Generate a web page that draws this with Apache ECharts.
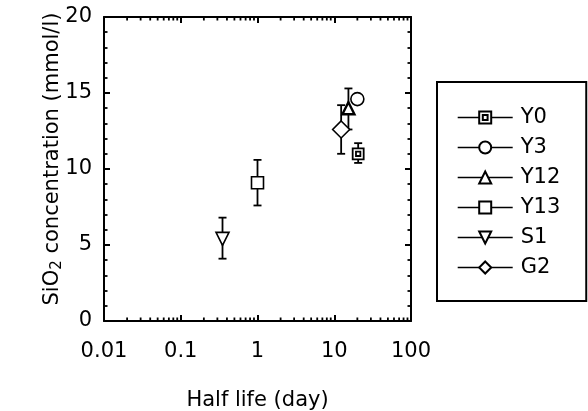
<!DOCTYPE html>
<html>
<head>
<meta charset="utf-8">
<script src="https://cdn.jsdelivr.net/npm/echarts@6/dist/echarts.min.js"></script>
<style>html,body{margin:0;padding:0;background:#fff;}#c{width:588px;height:411px;}</style>
</head>
<body>
<div id="c"></div>
<script>
// ---- data ----
const seriesNames = ['Y0', 'Y3', 'Y12', 'Y13', 'S1', 'G2'];
const halfLife   = [20.5, 20.0, 15.3, 1.0, 0.35, 12.3];
const sio2       = [11.0, 14.6, 14.0, 9.1, 5.4, 12.6];
const errLow     = [10.4, null, 12.6, 7.6, 4.1, 11.0];
const errHigh    = [11.7, null, 15.3, 10.6, 6.8, 14.2];
const xTickLabels = ['0.01', '0.1', '1', '10', '100'];
const decades = [0.01, 0.1, 1, 10];
const minorMultiples = [2, 3, 4, 5, 6, 7, 8, 9];

// ---- styles ----
const FONT = 'DejaVu Sans';
const FS = 21;
const symbols = {
  Y0:  {symbol: 'path://M0,0H10V10H0Z M3,3H7V7H3Z', size: 11, rotate: 0, bw: 1.8},
  Y3:  {symbol: 'circle', size: 13, rotate: 0, bw: 1.6},
  Y12: {symbol: 'triangle', size: 12, rotate: 0, bw: 2.4},
  Y13: {symbol: 'rect', size: 12, rotate: 0, bw: 1.6},
  S1:  {symbol: 'triangle', size: 13, rotate: 180, bw: 1.6},
  G2:  {symbol: 'diamond', size: 17, rotate: 0, bw: 1.6}
};

const minorTickVals = [];
decades.forEach(d => minorMultiples.forEach(m => minorTickVals.push([d * m])));

const errData = [];
seriesNames.forEach((n, i) => {
  if (errLow[i] != null) errData.push([halfLife[i], errLow[i], errHigh[i]]);
});

const pointSeries = seriesNames.map((n, i) => ({
  name: n,
  type: 'line',
  xAxisIndex: 0, yAxisIndex: 0,
  data: [[halfLife[i], sio2[i]]],
  symbol: symbols[n].symbol,
  symbolSize: symbols[n].size,
  symbolRotate: symbols[n].rotate,
  symbolKeepAspect: true,
  showSymbol: true,
  itemStyle: {color: '#fff', borderColor: '#000', borderWidth: symbols[n].bw},
  lineStyle: {color: '#000', width: 1.4},
  z: 5,
  animation: false
}));

const axisCommon = {
  axisLine: {show: true, onZero: false, lineStyle: {color: '#000', width: 2}},
  axisTick: {show: true, inside: true, length: 6, lineStyle: {color: '#000', width: 2}},
  splitLine: {show: false}
};

const option = {
  animation: false,
  backgroundColor: '#fff',
  grid: {left: 104, right: 177, top: 17, bottom: 90, containLabel: false, outerBoundsMode: 'none'},
  xAxis: [
    Object.assign({
      type: 'log', logBase: 10, min: 0.01, max: 100, position: 'bottom',
      name: 'Half life (day)', nameLocation: 'middle', nameGap: 69, nameMoveOverlap: false,
      nameTextStyle: {fontFamily: FONT, fontSize: FS, color: '#000'},
      axisLabel: {fontFamily: FONT, fontSize: FS, color: '#000', margin: 20,
        formatter: v => { const i = Math.round(Math.log10(v) + 2); return xTickLabels[i] || ''; }}
    }, axisCommon),
    Object.assign({
      type: 'log', logBase: 10, min: 0.01, max: 100, position: 'top',
      axisLabel: {show: false}
    }, axisCommon)
  ],
  yAxis: [
    Object.assign({
      type: 'value', min: 0, max: 20, interval: 5, position: 'left',
      name: 'SiO{sub|2} concentration (mmol/l)', nameLocation: 'middle', nameGap: 39, nameMoveOverlap: false,
      nameTextStyle: {fontFamily: FONT, fontSize: FS, color: '#000', padding: [0, 0, 0, 20],
        rich: {sub: {fontFamily: FONT, fontSize: 15, color: '#000', padding: [9, 0, 0, 0]}}},
      axisLabel: {fontFamily: FONT, fontSize: FS, color: '#000', margin: 12},
      minorTick: {show: true, splitNumber: 5, length: 3.5, lineStyle: {color: '#000', width: 1.8}}
    }, axisCommon),
    Object.assign({
      type: 'value', min: 0, max: 20, interval: 5, position: 'right',
      axisLabel: {show: false},
      minorTick: {show: true, splitNumber: 5, length: 3.5, lineStyle: {color: '#000', width: 1.8}}
    }, axisCommon)
  ],
  legend: {
    orient: 'vertical', left: 437, top: 82,
    padding: [25, 26, 23, 20],
    itemWidth: 55, itemHeight: 15, itemGap: 9,
    borderColor: '#000', borderWidth: 2, backgroundColor: '#fff',
    selectedMode: false,
    data: seriesNames,
    textStyle: {fontFamily: FONT, fontSize: FS, color: '#000', lineHeight: 20, padding: [0, 0, 0, 3]},
    lineStyle: {color: '#000', width: 1.4, opacity: 1}
  },
  series: [
    {
      type: 'custom', name: 'errorbars', xAxisIndex: 0, yAxisIndex: 0,
      data: errData, encode: {x: 0, y: [1, 2]}, z: 2, silent: true,
      renderItem: function (params, api) {
        const lo = api.coord([api.value(0), api.value(1)]);
        const hi = api.coord([api.value(0), api.value(2)]);
        const w = 4;
        const st = {stroke: '#000', lineWidth: 1.8};
        return {type: 'group', children: [
          {type: 'line', shape: {x1: lo[0], y1: lo[1], x2: hi[0], y2: hi[1]}, style: st},
          {type: 'line', shape: {x1: lo[0] - w, y1: lo[1], x2: lo[0] + w, y2: lo[1]}, style: st},
          {type: 'line', shape: {x1: hi[0] - w, y1: hi[1], x2: hi[0] + w, y2: hi[1]}, style: st}
        ]};
      }
    },
    {
      type: 'custom', name: 'minorticks', xAxisIndex: 0, yAxisIndex: 0,
      data: minorTickVals, encode: {x: 0}, z: 3, silent: true, clip: false,
      renderItem: function (params, api) {
        const v = api.value(0);
        const b = api.coord([v, 0]);
        const t = api.coord([v, 20]);
        const st = {stroke: '#000', lineWidth: 1.8};
        return {type: 'group', children: [
          {type: 'line', shape: {x1: b[0], y1: b[1], x2: b[0], y2: b[1] - 3.5}, style: st},
          {type: 'line', shape: {x1: t[0], y1: t[1], x2: t[0], y2: t[1] + 3.5}, style: st}
        ]};
      }
    }
  ].concat(pointSeries)
};

const chart = echarts.init(document.getElementById('c'), null, {renderer: 'canvas'});
chart.setOption(option);
</script>
</body>
</html>
